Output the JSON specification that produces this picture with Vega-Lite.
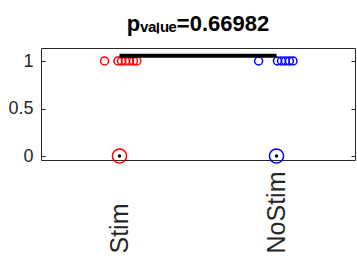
{
  "$schema": "https://vega.github.io/schema/vega-lite/v6.json",
  "autosize": {"type": "none"},
  "padding": {"left": 41, "top": 48, "right": 2, "bottom": 98},
  "width": 314,
  "height": 112,
  "background": "white",
  "title": {
    "text": "pᵥₐₗᵤₑ=0.66982",
    "font": "Liberation Sans",
    "fontWeight": "bold",
    "fontSize": 22,
    "color": "#000000",
    "baseline": "alphabetic",
    "offset": -5,
    "anchor": "middle"
  },
  "config": {
    "view": {"stroke": "#262626", "strokeWidth": 1},
    "axis": {
      "labelFont": "Liberation Sans",
      "labelColor": "#262626",
      "grid": false,
      "domain": false,
      "tickColor": "#262626",
      "title": null
    }
  },
  "datasets": {
    "ones": [
      {"group": "Stim", "x": 0.905, "y": 1},
      {"group": "Stim", "x": 0.99, "y": 1},
      {"group": "Stim", "x": 1.013, "y": 1},
      {"group": "Stim", "x": 1.038, "y": 1},
      {"group": "Stim", "x": 1.063, "y": 1},
      {"group": "Stim", "x": 1.089, "y": 1},
      {"group": "Stim", "x": 1.11, "y": 1},
      {"group": "NoStim", "x": 1.886, "y": 1},
      {"group": "NoStim", "x": 2.006, "y": 1},
      {"group": "NoStim", "x": 2.032, "y": 1},
      {"group": "NoStim", "x": 2.057, "y": 1},
      {"group": "NoStim", "x": 2.082, "y": 1},
      {"group": "NoStim", "x": 2.105, "y": 1}
    ],
    "centers": [
      {"group": "Stim", "x": 1, "y": 0},
      {"group": "NoStim", "x": 2, "y": 0}
    ],
    "bar": [
      {"x": 1, "x2": 2, "y": 1.055}
    ]
  },
  "resolve": {"scale": {"y": "independent"}, "axis": {"y": "independent"}},
  "layer": [
    {
      "data": {"name": "ones"},
      "mark": {"type": "point", "shape": "circle", "filled": false, "size": 64, "strokeWidth": 1.5, "opacity": 1},
      "encoding": {
        "x": {
          "field": "x", "type": "quantitative",
          "scale": {"domain": [0.5, 2.5], "nice": false, "zero": false},
          "axis": {
            "values": [1, 2],
            "labelExpr": "datum.value == 1 ? 'Stim' : datum.value == 2 ? 'NoStim' : ''",
            "labelAngle": -90,
            "labelAlign": "left",
            "labelBaseline": "middle",
            "labelFontSize": 25,
            "labelPadding": 93,
            "ticks": false
          }
        },
        "y": {
          "field": "y", "type": "quantitative",
          "scale": {"domain": [-0.042, 1.137], "nice": false, "zero": false},
          "axis": {
            "values": [0, 0.5, 1],
            "labelExpr": "datum.value == 0.5 ? '0.5' : datum.value == 1 ? '1' : '0'",
            "labelFontSize": 18,
            "tickSize": -4,
            "labelPadding": 12
          }
        },
        "color": {
          "field": "group", "type": "nominal",
          "scale": {"domain": ["Stim", "NoStim"], "range": ["#ff0000", "#0000ff"]},
          "legend": null
        }
      }
    },
    {
      "data": {"name": "centers"},
      "mark": {"type": "point", "shape": "circle", "filled": false, "size": 200, "strokeWidth": 1.5, "opacity": 1},
      "encoding": {
        "x": {"field": "x", "type": "quantitative"},
        "y": {"field": "y", "type": "quantitative", "scale": {"domain": [-0.042, 1.137], "nice": false, "zero": false}, "axis": null},
        "color": {"field": "group", "type": "nominal", "legend": null}
      }
    },
    {
      "data": {"name": "centers"},
      "mark": {"type": "point", "shape": "circle", "filled": true, "size": 12, "color": "#000000", "opacity": 1},
      "encoding": {
        "x": {"field": "x", "type": "quantitative"},
        "y": {
          "field": "y", "type": "quantitative",
          "scale": {"domain": [-0.042, 1.137], "nice": false, "zero": false},
          "axis": {"orient": "right", "values": [0, 0.5, 1], "labels": false, "tickSize": -4}
        }
      }
    },
    {
      "data": {"name": "bar"},
      "mark": {"type": "rule", "color": "#000000", "strokeWidth": 4},
      "encoding": {
        "x": {"field": "x", "type": "quantitative"},
        "x2": {"field": "x2"},
        "y": {"field": "y", "type": "quantitative", "scale": {"domain": [-0.042, 1.137], "nice": false, "zero": false}, "axis": null}
      }
    }
  ]
}
